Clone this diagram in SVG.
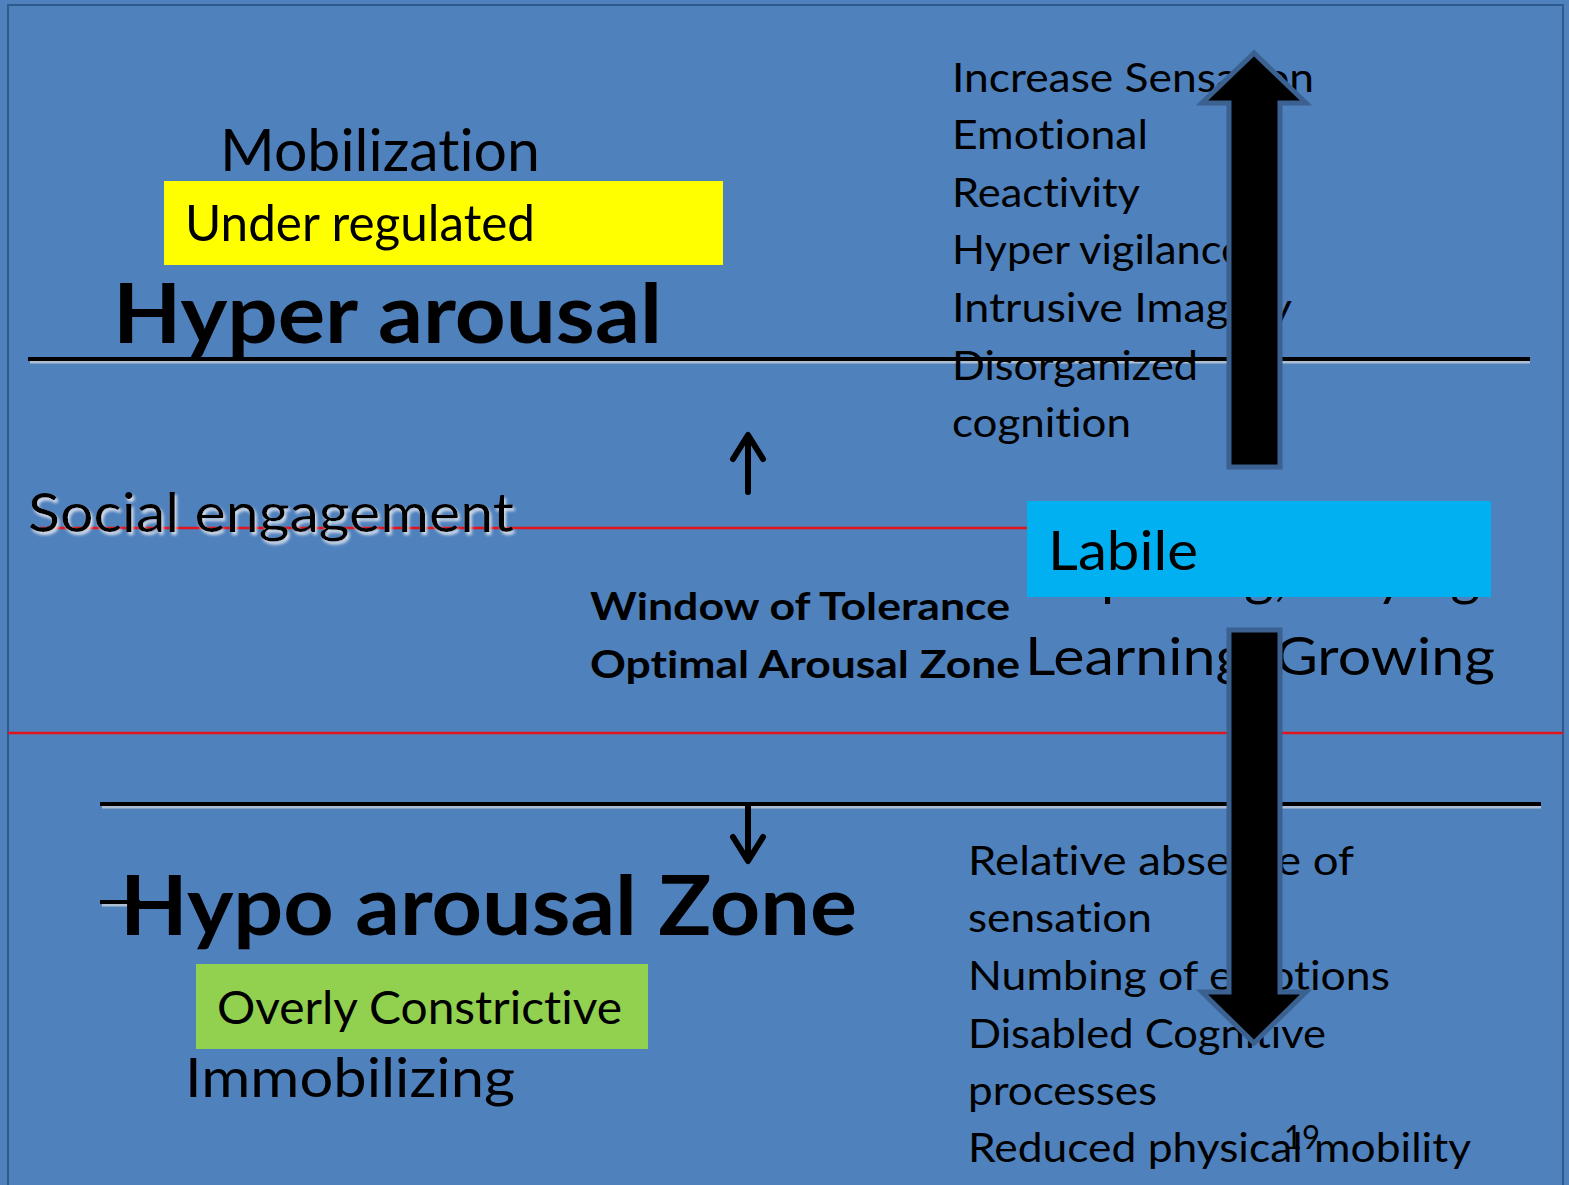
<svg xmlns="http://www.w3.org/2000/svg" width="1569" height="1185" viewBox="0 0 1569 1185">
  <defs>
    <style>
      .t { font-family: Lato, "Open Sans", "Liberation Sans", sans-serif; fill: #000; font-variant-ligatures: none; font-feature-settings: "liga" 0, "clig" 0, "dlig" 0, "calt" 0, "hlig" 0; }
      .b { font-weight: bold; }
      .rule { stroke: #000; stroke-width: 4; }
      .rule-sh { stroke: #c8cdd6; stroke-width: 3; opacity: 0.8; }
      .red { stroke: #e0141e; stroke-width: 2.5; }
      .big-arrow { fill: #000; stroke: #3b6191; stroke-width: 5; stroke-linejoin: miter; }
      .thin-arrow { fill: none; stroke: #000; stroke-width: 6; stroke-linecap: round; stroke-linejoin: round; }
    </style>
    <filter id="soft" x="-5%" y="-20%" width="110%" height="140%">
      <feGaussianBlur in="SourceAlpha" stdDeviation="1.5"/>
      <feOffset dx="2" dy="3" result="o"/>
      <feFlood flood-color="#e6e8ee" flood-opacity="0.9"/>
      <feComposite in2="o" operator="in"/>
      <feMerge><feMergeNode/><feMergeNode in="SourceGraphic"/></feMerge>
    </filter>
  </defs>

  <!-- slide background and frame -->
  <rect x="0" y="0" width="1569" height="1185" fill="#4f81bd"/>
  <rect x="8" y="5" width="1555" height="1190" fill="none" stroke="#2e5a8e" stroke-width="2"/>

  <!-- zone rules -->
  <g id="connectors">
    <line class="rule-sh" x1="30" y1="362" x2="1530" y2="362"/>
    <line class="rule" x1="28" y1="359" x2="1530" y2="359"/>
    <line class="red" x1="40" y1="528" x2="1030" y2="528"/>
    <line class="red" x1="8" y1="733" x2="1563" y2="733"/>
    <line class="rule-sh" x1="102" y1="807" x2="1541" y2="807"/>
    <line class="rule" x1="100" y1="804" x2="1541" y2="804"/>
    <line class="rule-sh" x1="102" y1="905" x2="140" y2="905"/>
    <line class="rule" x1="100" y1="902" x2="140" y2="902"/>
    <!-- small arrows -->
    <path class="thin-arrow" d="M748,492 V436 M733,459 L748,435 L763,459"/>
    <path class="thin-arrow" d="M748,806 V860 M733,837 L748,861 L763,837"/>
  </g>

  <!-- hyper arousal zone -->
  <g id="mobilization">
    <text class="t" x="220" y="171" font-size="58" textLength="320" lengthAdjust="spacingAndGlyphs">Mobilization</text>
  </g>
  <g id="under-regulated">
    <rect x="164" y="181" width="559" height="84" fill="#ffff00"/>
    <text class="t" x="185" y="241" font-size="50" textLength="350" lengthAdjust="spacingAndGlyphs">Under regulated</text>
  </g>
  <g id="hyper-arousal">
    <text class="t b" x="113" y="343" font-size="82" textLength="549" lengthAdjust="spacingAndGlyphs">Hyper arousal</text>
  </g>
  <g id="hyper-symptoms">
    <text class="t" x="952" y="92" font-size="40" textLength="362" lengthAdjust="spacingAndGlyphs">Increase Sensation</text>
    <text class="t" x="952" y="149" font-size="40" textLength="196" lengthAdjust="spacingAndGlyphs">Emotional</text>
    <text class="t" x="952" y="207" font-size="40" textLength="188" lengthAdjust="spacingAndGlyphs">Reactivity</text>
    <text class="t" x="952" y="264" font-size="40" textLength="292" lengthAdjust="spacingAndGlyphs">Hyper vigilance</text>
    <text class="t" x="952" y="322" font-size="40" textLength="340" lengthAdjust="spacingAndGlyphs">Intrusive Imagery</text>
    <text class="t" x="952" y="380" font-size="40" textLength="246" lengthAdjust="spacingAndGlyphs">Disorganized</text>
    <text class="t" x="952" y="437" font-size="40" textLength="179" lengthAdjust="spacingAndGlyphs">cognition</text>
  </g>
  <g id="arrow-up">
    <path class="big-arrow" d="M1229,467 V103 H1202 L1254,53 L1306,103 H1280 V467 Z"/>
  </g>

  <!-- window of tolerance -->
  <g id="social-engagement">
    <text class="t" x="28" y="532" font-size="54" textLength="486" lengthAdjust="spacingAndGlyphs" filter="url(#soft)">Social engagement</text>
  </g>
  <g id="window">
    <text class="t b" x="590" y="620" font-size="38" textLength="420" lengthAdjust="spacingAndGlyphs">Window of Tolerance</text>
    <text class="t b" x="590" y="678" font-size="38" textLength="430" lengthAdjust="spacingAndGlyphs">Optimal Arousal Zone</text>
  </g>
  <g id="learning">
    <text class="t" x="1040" y="595" font-size="52" textLength="440" lengthAdjust="spacingAndGlyphs">Exploring, Playing</text>
    <text class="t" x="1025" y="675" font-size="52" textLength="470" lengthAdjust="spacingAndGlyphs">Learning, Growing</text>
  </g>
  <g id="labile">
    <rect x="1027" y="501" width="464" height="96" fill="#00b0f0"/>
    <text class="t" x="1048" y="570" font-size="54" textLength="150" lengthAdjust="spacingAndGlyphs">Labile</text>
  </g>

  <!-- hypo arousal zone -->
  <g id="hypo-arousal">
    <text class="t b" x="120" y="935" font-size="82" textLength="737" lengthAdjust="spacingAndGlyphs">Hypo arousal Zone</text>
  </g>
  <g id="overly-constrictive">
    <rect x="196" y="964" width="452" height="85" fill="#92d050"/>
    <text class="t" x="217" y="1024" font-size="46" textLength="405" lengthAdjust="spacingAndGlyphs">Overly Constrictive</text>
  </g>
  <g id="immobilizing">
    <text class="t" x="185" y="1097" font-size="54" textLength="330" lengthAdjust="spacingAndGlyphs">Immobilizing</text>
  </g>
  <g id="hypo-symptoms">
    <text class="t" x="968" y="875" font-size="40" textLength="386" lengthAdjust="spacingAndGlyphs">Relative absence  of</text>
    <text class="t" x="968" y="932" font-size="40" textLength="184" lengthAdjust="spacingAndGlyphs">sensation</text>
    <text class="t" x="968" y="990" font-size="40" textLength="422" lengthAdjust="spacingAndGlyphs">Numbing of emotions</text>
    <text class="t" x="968" y="1048" font-size="40" textLength="358" lengthAdjust="spacingAndGlyphs">Disabled Cognitive</text>
    <text class="t" x="968" y="1105" font-size="40" textLength="189" lengthAdjust="spacingAndGlyphs">processes</text>
    <text class="t" x="968" y="1162" font-size="40" textLength="503" lengthAdjust="spacingAndGlyphs">Reduced physical mobility</text>
  </g>
  <g id="arrow-down">
    <path class="big-arrow" d="M1229,630 V992 H1202 L1254,1043 L1306,992 H1280 V630 Z"/>
  </g>
  <g id="page-number">
    <text class="t" x="1284" y="1149" font-size="33" textLength="36" lengthAdjust="spacingAndGlyphs">19</text>
  </g>
</svg>
